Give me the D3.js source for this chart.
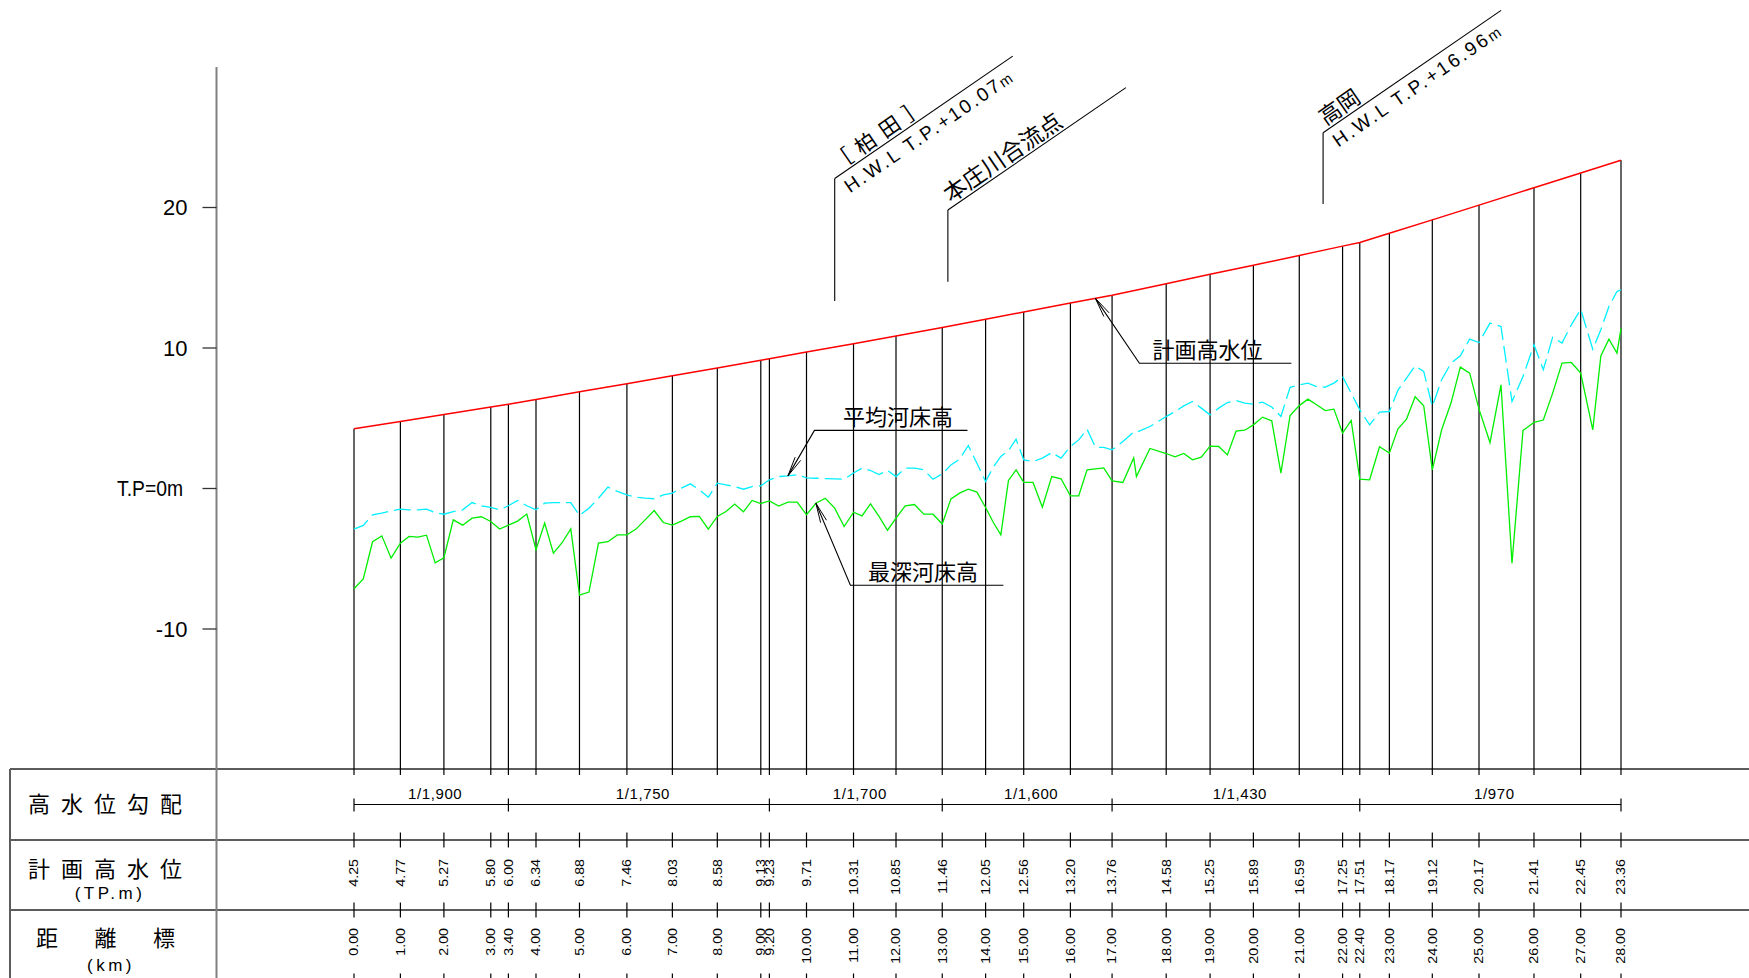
<!DOCTYPE html>
<html>
<head>
<meta charset="utf-8">
<script src="https://cdn.jsdelivr.net/npm/d3@7"></script>
<style>
body { margin: 0; background: #fff; }
svg { display: block; }
text { font-family: "Liberation Sans", Arial, sans-serif; fill: #000; }
.jp { font-family: "Noto Sans CJK JP", sans-serif; }
</style>
</head>
<body>
<svg id="chart" width="1749" height="978"></svg>
<script>
// 距離標 (km posts) and where each one sits along the drawn profile (km)
const stationKm = [0, 1, 2, 3, 3.4, 4, 5, 6, 7, 8, 9, 9.2, 10, 11, 12, 13, 14, 15, 16, 17, 18, 19, 20, 21, 22, 22.4, 23, 24, 25, 26, 27, 28];
const stationDist = [0, 1.025, 1.987, 3.023, 3.412, 4.022, 4.983, 6.031, 7.036, 8.029, 8.99, 9.18, 10, 11.039, 11.978, 13, 13.958, 14.8, 15.832, 16.753, 17.949, 18.919, 19.876, 20.89, 21.847, 22.227, 22.881, 23.83, 24.862, 26.077, 27.109, 28];
// 計画高水位 (TP.m)
const hwl = [4.25, 4.77, 5.27, 5.80, 6.00, 6.34, 6.88, 7.46, 8.03, 8.58, 9.13, 9.23, 9.71, 10.31, 10.85, 11.46, 12.05, 12.56, 13.20, 13.76, 14.58, 15.25, 15.89, 16.59, 17.25, 17.51, 18.17, 19.12, 20.17, 21.41, 22.45, 23.36];

// 高水位勾配
const gradBreaks = [0, 3.4, 9.2, 13, 17, 22.4, 28];
const gradLabels = ["1/1,900", "1/1,750", "1/1,700", "1/1,600", "1/1,430", "1/970"];

// cross sections: 最深河床高 (green) and 平均河床高 (cyan)
const sectionKm = [0, 0.2, 0.4, 0.6, 0.8, 1, 1.2, 1.4, 1.6, 1.8, 2, 2.2, 2.4, 2.6, 2.8, 3, 3.2, 3.4, 3.6, 3.8,
  4, 4.2, 4.4, 4.6, 4.8, 5, 5.2, 5.4, 5.6, 5.8, 6, 6.2, 6.4, 6.6, 6.8, 7, 7.2, 7.4, 7.6, 7.8,
  8, 8.2, 8.4, 8.6, 8.8, 9, 9.2, 9.4, 9.6, 9.8, 10, 10.2, 10.4, 10.6, 10.8, 11, 11.2, 11.4, 11.6, 11.8,
  12, 12.2, 12.4, 12.6, 12.8, 13, 13.2, 13.4, 13.6, 13.8, 14, 14.2, 14.4, 14.6, 14.8, 15, 15.2, 15.4, 15.6, 15.8,
  16, 16.2, 16.4, 16.6, 16.8, 17, 17.2, 17.4, 17.45, 17.7, 18, 18.2, 18.4, 18.6, 18.8, 19, 19.2, 19.4, 19.6, 19.8,
  20, 20.2, 20.4, 20.6, 20.8, 21, 21.2, 21.4, 21.6, 21.8, 22, 22.2, 22.4, 22.6, 22.8, 23, 23.2, 23.4, 23.6, 23.8,
  24, 24.2, 24.4, 24.6, 24.8, 25, 25.2, 25.4, 25.6, 25.8, 26, 26.2, 26.4, 26.6, 26.8, 27, 27.3, 27.5, 27.7, 27.9, 28];
const deepBed = [-7.14, -6.43, -3.79, -3.37, -4.96, -3.89, -3.41, -3.46, -3.32, -5.29, -4.93, -2.23, -2.61, -2.11, -2.01, -2.35, -2.89, -2.61, -2.32, -1.82,
  -4.36, -2.46, -4.60, -3.86, -2.87, -7.59, -7.37, -3.89, -3.79, -3.30, -3.30, -2.89, -2.23, -1.57, -2.42, -2.61, -2.32, -2.01, -1.99, -2.89,
  -1.99, -1.64, -1.11, -1.66, -0.85, -1.07, -0.88, -1.25, -0.97, -0.97, -1.87, -1.05, -0.69, -1.40, -2.71, -1.69, -1.95, -1.09, -1.99, -2.97,
  -2.11, -1.23, -1.14, -1.83, -1.83, -2.52, -0.74, -0.33, -0.05, -0.26, -1.35, -2.40, -3.30, 0.57, 1.33, 0.43, 0.43, -1.33, 0.85, 0.69,
  -0.52, -0.52, 1.33, 1.40, 1.47, 0.54, 0.43, 2.18, 0.85, 2.85, 2.49, 2.25, 2.49, 2.04, 2.23, 3.01, 2.99, 2.39, 4.08, 4.15,
  4.53, 5.08, 4.82, 1.09, 5.20, 5.90, 6.36, 5.96, 5.55, 5.65, 3.94, 4.84, 0.67, 0.62, 2.97, 2.52, 4.25, 4.94, 6.53, 5.89,
  1.33, 4.18, 6.08, 8.64, 8.21, 5.65, 3.27, 7.38, -5.31, 4.13, 4.70, 4.87, 6.79, 8.92, 8.97, 8.21, 4.18, 9.44, 10.63, 9.64, 11.40];
const avgBed = [-2.89, -2.63, -1.87, -1.75, -1.59, -1.47, -1.52, -1.52, -1.47, -1.71, -1.83, -1.64, -1.52, -1.00, -1.23, -1.35, -1.52, -1.23, -0.85, -1.23,
  -1.52, -1.04, -1.00, -1.00, -1.00, -1.92, -1.40, -0.69, 0.10, -0.21, -0.45, -0.62, -0.69, -0.73, -0.45, -0.33, 0.03, 0.33, -0.09, -0.62,
  0.38, 0.26, 0.14, -0.05, 0.14, 0.19, 0.62, 0.85, 0.90, 0.97, 0.76, 0.73, 0.71, 0.69, 0.66, 1.10, 1.45, 1.28, 0.99, 1.28,
  0.85, 1.45, 1.45, 1.33, 0.66, 1.04, 1.68, 2.09, 3.06, 1.80, 0.50, 1.52, 2.28, 2.70, 3.51, 2.04, 1.92, 2.16, 2.56, 2.16,
  2.99, 3.46, 4.22, 2.94, 2.92, 2.75, 3.34, 4.03, 4.00, 4.41, 5.12, 5.48, 5.88, 6.19, 5.72, 5.24, 5.72, 6.12, 6.26, 6.07,
  6.00, 6.15, 5.80, 5.12, 7.20, 7.38, 7.50, 7.26, 7.21, 7.50, 7.97, 6.79, 5.60, 4.53, 5.44, 5.48, 7.00, 7.86, 8.73, 8.33,
  5.84, 7.74, 8.92, 9.44, 10.63, 10.39, 11.77, 11.53, 6.19, 7.97, 10.23, 8.45, 10.77, 10.35, 11.65, 12.76, 9.91, 11.30, 12.95, 14.02, 14.14];

const yTicks = [-10, 0, 10, 20];
const yTickLabels = ["-10", "T.P=0m", "10", "20"];

const W = 1749;
const svg = d3.select("#chart");

// scales
const x = d3.scaleLinear().domain([0, 28]).range([354, 1621]);
const dist = d3.scaleLinear().domain(stationKm).range(stationDist);
const xk = km => x(dist(km));
const y = d3.scaleLinear().domain([-10, 20]).range([629, 207.5]);
const hwlAt = d3.scaleLinear().domain(stationKm).range(hwl);

// table layout
const T = {left: 10, col: 216.5, axisTop: 67, top: 769, r2: 840, r3: 910, bottom: 981};
const chartBottom = 775;

// table frame and y axis line
const frame = svg.append("g").attr("stroke", "#5c5c5c").attr("stroke-width", 2);
[T.top, T.r2, T.r3, T.bottom].forEach(v => {
  frame.append("line").attr("x1", T.left).attr("x2", W).attr("y1", v).attr("y2", v);
});
frame.append("line").attr("x1", T.left).attr("x2", T.left).attr("y1", T.top).attr("y2", T.bottom);
svg.append("line").attr("x1", T.col).attr("x2", T.col).attr("y1", T.axisTop).attr("y2", T.bottom)
  .attr("stroke", "#808080").attr("stroke-width", 2);

// y ticks
svg.append("g").selectAll("line").data(yTicks).join("line")
  .attr("x1", T.col - 14).attr("x2", T.col)
  .attr("y1", d => y(d)).attr("y2", d => y(d))
  .attr("stroke", "#333").attr("stroke-width", 1.3);
svg.append("g").selectAll("text").data(yTicks).join("text")
  .attr("x", (d, i) => i === 1 ? 183 : 187.5)
  .attr("y", d => y(d) + 7.5)
  .attr("text-anchor", "end")
  .style("font-size", "22px")
  .attr("textLength", (d, i) => i === 1 ? 66 : null)
  .attr("lengthAdjust", "spacingAndGlyphs")
  .text((d, i) => yTickLabels[i]);

// station verticals
svg.append("g").selectAll("line").data(stationKm).join("line")
  .attr("x1", d => xk(d)).attr("x2", d => xk(d))
  .attr("y1", (d, i) => y(hwl[i])).attr("y2", chartBottom)
  .attr("stroke", "#000").attr("stroke-width", 1.2);

// station ticks on table rows
[T.r2, T.r3, T.bottom].forEach(v => {
  svg.append("g").selectAll("line").data(stationKm).join("line")
    .attr("x1", d => xk(d)).attr("x2", d => xk(d))
    .attr("y1", v - 7.5).attr("y2", v + 7.5)
    .attr("stroke", "#000").attr("stroke-width", 1.2);
});

// river bed lines
const bedLine = vals => d3.line().x((d, i) => xk(sectionKm[i])).y(d => y(d))(vals);
svg.append("path").attr("d", bedLine(avgBed))
  .attr("fill", "none").attr("stroke", "#00f0ff").attr("stroke-width", 1.3)
  .attr("stroke-dasharray", "17,6");
svg.append("path").attr("d", bedLine(deepBed))
  .attr("fill", "none").attr("stroke", "#00ee00").attr("stroke-width", 1.3);

// planned high water level
svg.append("path")
  .attr("d", d3.line().x((d, i) => xk(stationKm[i])).y(d => y(d))(hwl))
  .attr("fill", "none").attr("stroke", "#ff0000").attr("stroke-width", 1.5);

// gradient row
const gy = 804.5;
svg.append("line").attr("x1", xk(0)).attr("x2", xk(28)).attr("y1", gy).attr("y2", gy)
  .attr("stroke", "#000").attr("stroke-width", 1.2);
svg.append("g").selectAll("line").data(gradBreaks).join("line")
  .attr("x1", d => xk(d)).attr("x2", d => xk(d))
  .attr("y1", gy - 6).attr("y2", gy + 7)
  .attr("stroke", "#000").attr("stroke-width", 1.2);
svg.append("g").selectAll("text").data(gradLabels).join("text")
  .attr("x", (d, i) => (xk(gradBreaks[i]) + xk(gradBreaks[i + 1])) / 2 + 4)
  .attr("y", 799)
  .attr("text-anchor", "middle")
  .style("font-size", "15px").style("letter-spacing", "0.6px")
  .text(d => d);

// rotated value rows (narrow glyphs so that 9.00/9.20 stay apart)
function valueRow(top, labels) {
  svg.append("g").selectAll("text").data(stationKm).join("text")
    .attr("transform", d => `translate(${xk(d)},${top}) rotate(-90) scale(1.02,0.86)`)
    .attr("text-anchor", "end")
    .attr("dy", "0.36em")
    .style("font-size", "14px")
    .text((d, i) => labels[i]);
}
valueRow(859, hwl.map(v => v.toFixed(2)));
valueRow(928, stationKm.map(v => v.toFixed(2)));

// row titles
const titles = svg.append("g");
titles.append("text").attr("class", "jp").attr("x", 28).attr("y", 802).attr("dominant-baseline", "central")
  .style("font-size", "22px").style("letter-spacing", "11px").text("高水位勾配");
titles.append("text").attr("class", "jp").attr("x", 28).attr("y", 867).attr("dominant-baseline", "central")
  .style("font-size", "22px").style("letter-spacing", "11px").text("計画高水位");
titles.append("text").attr("x", 110).attr("y", 893).attr("dominant-baseline", "central").attr("text-anchor", "middle")
  .style("font-size", "17px").style("letter-spacing", "3.5px").text("(TP.m)");
titles.append("text").attr("class", "jp").attr("x", 36).attr("y", 936).attr("dominant-baseline", "central")
  .style("font-size", "22px").style("letter-spacing", "36.5px").text("距離標");
titles.append("text").attr("x", 111).attr("y", 965).attr("dominant-baseline", "central").attr("text-anchor", "middle")
  .style("font-size", "17px").style("letter-spacing", "3.5px").text("(km)");

// place-name callouts: vertical stem + inclined leader with text
const callouts = [
  {km: 10.6, low: 301, high: 178.5, above: "［柏田］", aboveSize: 21, aboveSpacing: 8, below: "H.W.L T.P.+10.07"},
  {km: 13.13, low: 281.7, high: 210, above: "本庄川合流点", aboveSize: 23, aboveSpacing: 0, below: null},
  {km: 21.55, low: 204, high: 132.7, above: "高岡", aboveSize: 22, aboveSpacing: 0, below: "H.W.L T.P.+16.96"}
];
const ang = -34.5, lead = 216;
callouts.forEach(c => {
  const cx = xk(c.km);
  svg.append("line").attr("x1", cx).attr("x2", cx).attr("y1", c.low).attr("y2", c.high)
    .attr("stroke", "#000").attr("stroke-width", 1.1);
  const g = svg.append("g").attr("transform", `translate(${cx},${c.high}) rotate(${ang})`);
  g.append("line").attr("x1", 0).attr("x2", lead).attr("y1", 0).attr("y2", 0)
    .attr("stroke", "#000").attr("stroke-width", 1.1);
  g.append("text").attr("class", "jp").attr("x", 6).attr("y", -4)
    .style("font-size", c.aboveSize + "px").style("letter-spacing", c.aboveSpacing + "px").text(c.above);
  if (c.below) {
    const t = g.append("text").attr("x", 4).attr("y", 21)
      .style("font-size", "19px").style("letter-spacing", "2.6px");
    t.append("tspan").text(c.below);
    t.append("tspan").style("font-size", "15px").style("letter-spacing", "0px").text("m");
  }
});

// leader labels with open arrowheads
function arrowLabel(tx, ty, dx, dy, len, label, shift) {
  const ex = tx + dx, ey = ty + dy;
  svg.append("polyline")
    .attr("points", `${tx},${ty} ${ex},${ey} ${ex + len},${ey}`)
    .attr("fill", "none").attr("stroke", "#000").attr("stroke-width", 1.1);
  const a = Math.atan2(dy, dx);
  [-0.16, 0.16].forEach(s => {
    svg.append("line").attr("x1", tx).attr("y1", ty)
      .attr("x2", tx + 20 * Math.cos(a + s)).attr("y2", ty + 20 * Math.sin(a + s))
      .attr("stroke", "#000").attr("stroke-width", 1);
  });
  svg.append("text").attr("class", "jp")
    .attr("x", ex + len / 2 + shift).attr("y", ey - 5)
    .attr("text-anchor", "middle")
    .style("font-size", "22px").text(label);
}
const iAvg = sectionKm.indexOf(9.6), iDeep = sectionKm.indexOf(10.2);
arrowLabel(xk(16.6), y(hwlAt(16.6)), 44, 65, 152, "計画高水位", -8);
arrowLabel(xk(9.6), y(avgBed[iAvg]), 26.5, -45.5, 153, "平均河床高", 7);
arrowLabel(xk(10.2), y(deepBed[iDeep]), 34.5, 82, 153, "最深河床高", -4);
</script>
</body>
</html>
